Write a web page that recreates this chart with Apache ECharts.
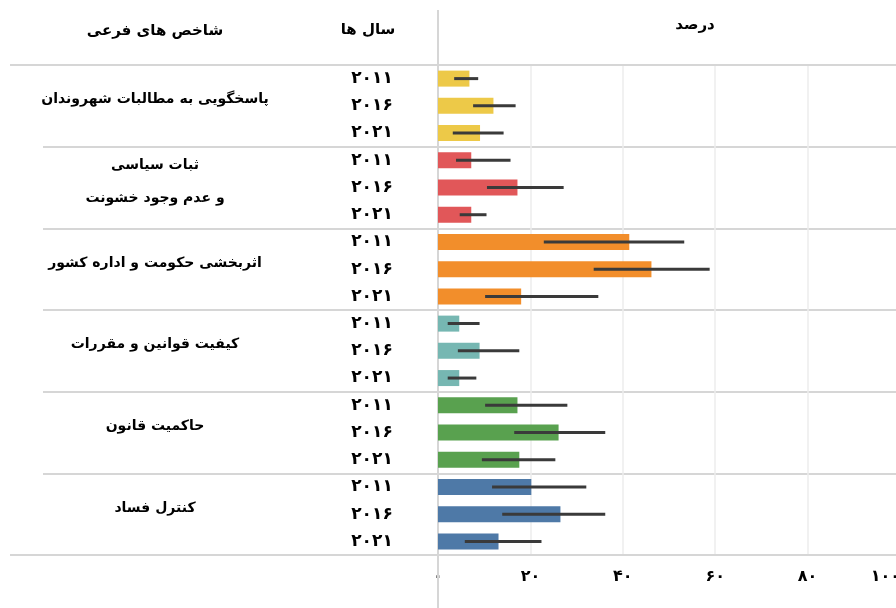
<!DOCTYPE html>
<html>
<head>
<meta charset="utf-8">
<script src="https://cdn.jsdelivr.net/npm/echarts@6/dist/echarts.min.js"></script>
<style>
  html, body { margin: 0; padding: 0; background: #fff; }
  #chart { width: 896px; height: 608px; }
</style>
</head>
<body>
<div id="chart"></div>
<script>
// indicator groups (top to bottom) and the years inside each group
const groups = [
  'پاسخگویی به مطالبات شهروندان',
  'ثبات سیاسی\nو عدم وجود خشونت',
  'اثربخشی حکومت و اداره کشور',
  'کیفیت قوانین و مقررات',
  'حاکمیت قانون',
  'کنترل فساد'
];
const years = ['۲۰۱۱', '۲۰۱۶', '۲۰۲۱'];

// percent value per row (group by group, years 2011/2016/2021)
const values = [6.8, 12.0, 9.1, 7.2, 17.2, 7.2, 41.4, 46.2, 18.0, 4.6, 9.0, 4.6, 17.2, 26.1, 17.6, 20.2, 26.5, 13.1];
// error bar range
const lower = [3.5, 7.6, 3.2, 3.9, 10.6, 4.7, 22.9, 33.7, 10.2, 2.1, 4.3, 2.1, 10.2, 16.5, 9.5, 11.7, 13.9, 5.8];
const upper = [8.7, 16.8, 14.2, 15.7, 27.2, 10.5, 53.3, 58.8, 34.7, 9.0, 17.6, 8.3, 28.0, 36.2, 25.4, 32.1, 36.2, 22.4];

const xTickLabels = ['۰', '۲۰', '۴۰', '۶۰', '۸۰', '۱۰۰'];
const groupColors = ['#edc948', '#e15759', '#f28e2b', '#76b7b2', '#59a14f', '#4e79a7'];

const font = 'DejaVu Sans';
const ruleColor = '#d6d6d6';

const rowLabels = groups.flatMap(() => years);

const chart = echarts.init(document.getElementById('chart'));

chart.setOption({
  animation: false,
  grid: { left: 438, right: -4, top: 65, bottom: 53, outerBoundsMode: 'none' },
  xAxis: {
    type: 'value',
    min: 0,
    max: 100,
    interval: 20,
    axisLine: { show: false },
    axisTick: { show: false },
    splitLine: { lineStyle: { color: '#ececec', width: 1.5 } },
    axisLabel: {
      margin: 14,
      fontFamily: font,
      fontWeight: 'bold',
      fontSize: 16,
      color: '#000',
      alignMaxLabel: 'right',
      formatter: v => xTickLabels[Math.round(v / 20)]
    }
  },
  yAxis: [
    {
      type: 'category',
      position: 'left',
      inverse: true,
      data: rowLabels,
      axisLine: { show: true, lineStyle: { color: ruleColor, width: 2 } },
      axisTick: { show: false },
      splitLine: { show: false },
      axisLabel: {
        margin: 66,
        align: 'center',
        fontFamily: font,
        fontWeight: 'bold',
        fontSize: 17,
        color: '#000'
      }
    },
    {
      type: 'category',
      position: 'left',
      inverse: true,
      data: groups,
      axisLine: { show: false },
      axisTick: { show: true, length: 395, lineStyle: { color: ruleColor, width: 2 } },
      splitLine: { show: true, lineStyle: { color: ruleColor, width: 2 } },
      axisLabel: {
        margin: 283,
        align: 'center',
        fontFamily: font,
        fontWeight: 'bold',
        fontSize: 14,
        lineHeight: 33,
        color: '#000',
        // empty spacer line below the name lifts it a little above the group centre
        formatter: v => v + '\n{s| }',
        rich: { s: { fontSize: 1, lineHeight: 12 } }
      }
    }
  ],
  graphic: [
    { type: 'line', shape: { x1: 10, y1: 65, x2: 896, y2: 65 }, style: { stroke: ruleColor, lineWidth: 2 }, z: 1 },
    { type: 'line', shape: { x1: 10, y1: 555, x2: 896, y2: 555 }, style: { stroke: ruleColor, lineWidth: 2 }, z: 1 },
    { type: 'line', shape: { x1: 438, y1: 10, x2: 438, y2: 608 }, style: { stroke: ruleColor, lineWidth: 2 }, z: 1 },
    { type: 'text', x: 155, y: 31, style: { text: 'شاخص های فرعی', font: 'bold 15px "DejaVu Sans"', fill: '#000', align: 'center', verticalAlign: 'middle' } },
    { type: 'text', x: 368, y: 30, style: { text: 'سال ها', font: 'bold 15px "DejaVu Sans"', fill: '#000', align: 'center', verticalAlign: 'middle' } },
    { type: 'text', x: 695, y: 25, style: { text: 'درصد', font: 'bold 15px "DejaVu Sans"', fill: '#000', align: 'center', verticalAlign: 'middle' } }
  ],
  series: [
    {
      type: 'bar',
      yAxisIndex: 0,
      barWidth: 16,
      data: values.map((v, i) => ({
        value: v,
        itemStyle: { color: groupColors[Math.floor(i / 3)] }
      }))
    },
    {
      type: 'custom',
      yAxisIndex: 0,
      z: 5,
      encode: { x: [1, 2], y: 0 },
      data: values.map((v, i) => [i, lower[i], upper[i]]),
      renderItem: (params, api) => {
        const row = api.value(0);
        const p1 = api.coord([api.value(1), row]);
        const p2 = api.coord([api.value(2), row]);
        return {
          type: 'line',
          shape: { x1: p1[0], y1: p1[1], x2: p2[0], y2: p2[1] },
          style: { stroke: '#3a3a3a', lineWidth: 3 }
        };
      }
    }
  ]
});
</script>
</body>
</html>
